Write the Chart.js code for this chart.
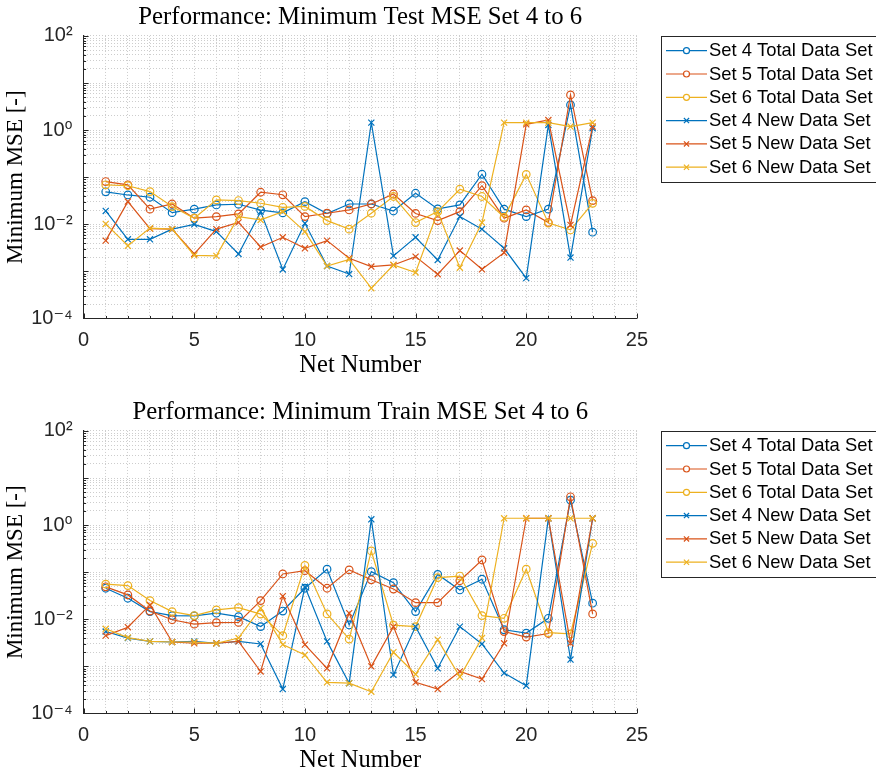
<!DOCTYPE html>
<html><head><meta charset="utf-8">
<script src="https://cdn.jsdelivr.net/npm/chart.js@4.4.1/dist/chart.umd.min.js"></script>
<style>
html,body{margin:0;padding:0;background:#fff;overflow:hidden;width:876px;height:771px}
.wrap{position:absolute;left:0;width:876px;height:395px}
canvas{display:block}
</style></head><body>
<div class="wrap" style="top:0"><canvas id="c1" width="876" height="395"></canvas></div>
<div class="wrap" style="top:395px"><canvas id="c2" width="876" height="395"></canvas></div>
<script>
// ---------- data ----------
const netNumbers = [1,2,3,4,5,6,7,8,9,10,11,12,13,14,15,16,17,18,19,20,21,22,23];
const xTickLabels = [0,5,10,15,20,25];
const yTickValues = [1e-4,1e-2,1e0,1e2];
const yTickLabels = ['10\u207B\u2074','10\u207B\u00B2','10\u2070','10\u00B2'];
const seriesLabels = ['Set 4 Total Data Set','Set 5 Total Data Set','Set 6 Total Data Set','Set 4 New Data Set','Set 5 New Data Set','Set 6 New Data Set'];
const titleTest = 'Performance: Minimum Test MSE Set 4 to 6';
const titleTrain = 'Performance: Minimum Train MSE Set 4 to 6';
const xAxisTitle = 'Net Number';
const yAxisTitle = 'Minimum MSE [-]';

// Test MSE
const testSet4Total = [0.049,0.042,0.0376,0.0177,0.021,0.0258,0.0267,0.020,0.0175,0.0303,0.0170,0.027,0.027,0.0192,0.0457,0.0212,0.0258,0.1156,0.021,0.0146,0.021,3.43,0.0068];
const testSet5Total = [0.081,0.069,0.021,0.027,0.0135,0.0146,0.0166,0.048,0.0424,0.0146,0.0172,0.0202,0.027,0.044,0.017,0.012,0.0186,0.066,0.0135,0.0202,0.0109,5.6,0.0319];
const testSet6Total = [0.069,0.066,0.0495,0.0238,0.0135,0.033,0.032,0.028,0.023,0.024,0.012,0.0079,0.0172,0.039,0.0109,0.0186,0.0556,0.039,0.0142,0.115,0.0106,0.0076,0.0279];
const testSet4New = [0.0192,0.0048,0.0048,0.0079,0.010,0.007,0.00235,0.0186,0.0011,0.0105,0.0013,0.00088,1.445,0.00214,0.0053,0.00175,0.0146,0.0079,0.0031,0.00072,1.29,0.00197,1.1];
const testSet5New = [0.0045,0.0304,0.0081,0.0079,0.00235,0.0079,0.011,0.0033,0.0053,0.0031,0.0045,0.0019,0.00127,0.00137,0.00206,0.00087,0.00277,0.00111,0.0025,1.33,1.64,0.0097,1.19];
const testSet6New = [0.0102,0.0035,0.0083,0.0079,0.0022,0.00214,0.0146,0.0124,0.0186,0.007,0.0013,0.0018,0.00044,0.00137,0.00095,0.0186,0.0012,0.0109,1.445,1.44,1.44,1.19,1.44];

// Train MSE
const trainSet4Total = [0.0457,0.028,0.0146,0.012,0.0118,0.0135,0.0114,0.007,0.015,0.0457,0.116,0.0076,0.103,0.06,0.0146,0.09,0.042,0.071,0.006,0.0051,0.0105,3.4,0.022];
const trainSet5Total = [0.049,0.033,0.015,0.0098,0.0079,0.0085,0.0086,0.025,0.092,0.108,0.0457,0.112,0.069,0.044,0.0226,0.0226,0.066,0.182,0.0055,0.0042,0.005,4.0,0.013];
const trainSet6Total = [0.056,0.052,0.025,0.0146,0.012,0.0158,0.0177,0.0129,0.0045,0.14,0.013,0.0038,0.283,0.0075,0.007,0.077,0.083,0.012,0.0105,0.116,0.0052,0.0049,0.41];
const trainSet4New = [0.0055,0.004,0.0034,0.0033,0.0034,0.0031,0.0034,0.003,0.00033,0.049,0.0034,0.00044,1.33,0.00066,0.007,0.00091,0.007,0.003,0.00072,0.00039,1.4,0.0014,1.4];
const trainSet5New = [0.0045,0.0068,0.0202,0.0033,0.0031,0.0031,0.0034,0.00078,0.031,0.0029,0.00091,0.0135,0.001,0.007,0.00046,0.00033,0.00078,0.00054,0.0031,1.4,1.4,0.0031,1.4];
const trainSet6New = [0.0063,0.0041,0.0034,0.0033,0.0033,0.0031,0.004,0.0173,0.0029,0.00175,0.00046,0.00044,0.00029,0.002,0.00068,0.0037,0.0006,0.004,1.4,1.4,1.4,1.4,1.4];

// ---------- styles ----------
const seriesColors = ['#0072BD','#D95319','#EDB120','#0072BD','#D95319','#EDB120'];
const seriesMarkers = ['circle','circle','circle','crossRot','crossRot','crossRot'];
const SERIF = '"Liberation Serif","Times New Roman",serif';
const SANS = '"Liberation Sans",Arial,"DejaVu Sans",sans-serif';
const TXT = '#262626';
const GRID = '#cdcdcd';

// grid positions
const xGridValues = [];
for (let v = 0; v <= 25; v++) xGridValues.push(v);
const yGridValues = [];
for (let e = -4; e <= 1; e++) for (let m = 1; m <= 9; m++) yGridValues.push(m * Math.pow(10, e));
yGridValues.push(100);

function yLabelFor(v) {
  for (let i = 0; i < yTickValues.length; i++) {
    if (Math.abs(v - yTickValues[i]) <= yTickValues[i] * 1e-6) return yTickLabels[i];
  }
  return '';
}
function isDecade(v) {
  const l = Math.log10(v);
  return Math.abs(l - Math.round(l)) < 1e-6;
}

const innerTicks = {
  id: 'innerTicks',
  afterDraw(chart) {
    const {ctx, chartArea: a, scales: {x, y}} = chart;
    ctx.save();
    ctx.strokeStyle = TXT; ctx.lineWidth = 1;
    ctx.beginPath();
    xGridValues.forEach(v => {
      const px = Math.round(x.getPixelForValue(v)) + 0.5;
      const L = (v % 5 === 0) ? 5 : 2.5;
      ctx.moveTo(px, a.bottom); ctx.lineTo(px, a.bottom - L);
    });
    yGridValues.forEach(v => {
      const py = Math.round(y.getPixelForValue(v)) + 0.5;
      const L = isDecade(v) ? 5 : 2.5;
      ctx.moveTo(a.left, py); ctx.lineTo(a.left + L, py);
    });
    ctx.stroke();
    ctx.restore();
  }
};

const boxLegend = {
  id: 'boxLegend',
  afterDraw(chart) {
    const ctx = chart.ctx;
    const L = 661, T = 36, R = 878, B = 182;
    ctx.save();
    ctx.fillStyle = '#fff';
    ctx.fillRect(L, T, R - L, B - T);
    ctx.strokeStyle = TXT; ctx.lineWidth = 1;
    ctx.strokeRect(L + 0.5, T + 0.5, R - L, B - T);
    chart.data.datasets.forEach((ds, i) => {
      const yy = 50.7 + 23.3 * i;
      ctx.strokeStyle = ds.borderColor; ctx.lineWidth = 1.2;
      ctx.beginPath(); ctx.moveTo(666, yy); ctx.lineTo(707, yy); ctx.stroke();
      const cx = 686.5;
      ctx.beginPath();
      if (ds.pointStyle === 'circle') {
        ctx.fillStyle = '#fff';
        ctx.arc(cx, yy, 3, 0, Math.PI * 2); ctx.fill(); ctx.stroke();
      } else {
        const d = 2.6;
        ctx.moveTo(cx - d, yy - d); ctx.lineTo(cx + d, yy + d);
        ctx.moveTo(cx - d, yy + d); ctx.lineTo(cx + d, yy - d); ctx.stroke();
      }
      ctx.fillStyle = '#000';
      ctx.font = '18.4px ' + SANS;
      ctx.textBaseline = 'middle'; ctx.textAlign = 'left';
      ctx.fillText(ds.label, 709, yy + 0.5);
    });
    ctx.restore();
  }
};

function makeChart(id, title, series) {
  const datasets = series.map((vals, i) => ({
    label: seriesLabels[i],
    data: netNumbers.map((n, k) => ({x: n, y: vals[k]})),
    borderColor: seriesColors[i],
    backgroundColor: seriesColors[i],
    pointBackgroundColor: 'rgba(0,0,0,0)',
    pointBorderColor: seriesColors[i],
    pointStyle: seriesMarkers[i],
    pointRadius: seriesMarkers[i] === 'circle' ? 3.8 : 4.3,
    pointBorderWidth: 1.2,
    borderWidth: 1.2,
    tension: 0,
    fill: false,
    order: 10 - i
  }));
  return new Chart(document.getElementById(id), {
    type: 'line',
    data: {datasets},
    plugins: [innerTicks, boxLegend],
    options: {
      responsive: false,
      animation: false,
      devicePixelRatio: 1,
      layout: {padding: {left: 0, right: 239.1, top: 0, bottom: 0}},
      plugins: {
        legend: {display: false},
        tooltip: {enabled: false},
        title: {
          display: true, text: title, fullSize: false,
          color: '#000', font: {family: SERIF, size: 24.8, weight: 'normal', lineHeight: 1.2},
          padding: {top: 2.5, bottom: 3.7}
        }
      },
      scales: {
        x: {
          type: 'linear', min: 0, max: 25,
          afterBuildTicks: s => { s.ticks = xGridValues.map(v => ({value: v})); },
          afterFit: s => { s.height = 76.5; s.paddingLeft = 0; s.paddingRight = 0; },
          ticks: {
            autoSkip: false, maxRotation: 0, minRotation: 0, padding: 9.5, color: TXT,
            font: {family: SANS, size: 20},
            callback: v => (xTickLabels.indexOf(v) >= 0 ? String(v) : '')
          },
          grid: {color: GRID, lineWidth: 1, drawTicks: false},
          border: {display: true, color: TXT, width: 1, dash: [1, 2]},
          title: {display: true, text: xAxisTitle, color: '#000',
            font: {family: SERIF, size: 24.5, lineHeight: 1.2}, padding: {top: 0, bottom: 14.3}}
        },
        y: {
          type: 'logarithmic', min: 1e-4, max: 1e2,
          afterBuildTicks: s => { s.ticks = yGridValues.map(v => ({value: v, major: isDecade(v)})); },
          afterFit: s => { s.width = 83.6; s.paddingTop = 0; s.paddingBottom = 0; },
          ticks: {
            autoSkip: false, padding: 11, color: TXT,
            font: {family: SANS, size: 20},
            callback: v => yLabelFor(v)
          },
          grid: {color: GRID, lineWidth: 1, drawTicks: false},
          border: {display: true, color: TXT, width: 1, dash: [1, 2]},
          title: {display: true, text: yAxisTitle, color: '#000',
            font: {family: SERIF, size: 23, lineHeight: 1.2}, padding: {top: 2, bottom: 0}}
        }
      }
    }
  });
}

makeChart('c1', titleTest, [testSet4Total, testSet5Total, testSet6Total, testSet4New, testSet5New, testSet6New]);
makeChart('c2', titleTrain, [trainSet4Total, trainSet5Total, trainSet6Total, trainSet4New, trainSet5New, trainSet6New]);
</script>
</body></html>
